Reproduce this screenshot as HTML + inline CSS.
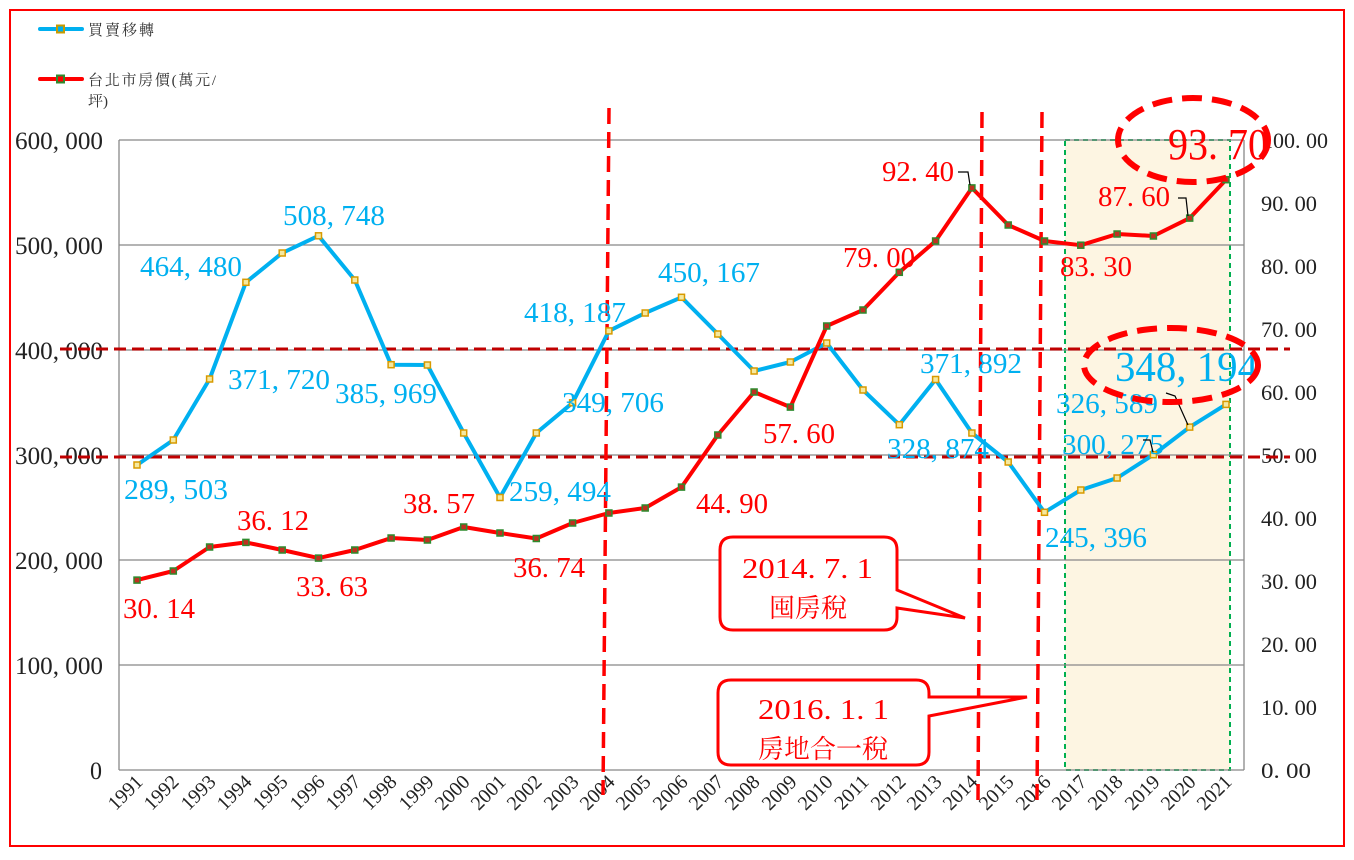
<!DOCTYPE html>
<html><head><meta charset="utf-8"><style>
body{margin:0;background:#fff}
svg text{font-family:"Liberation Serif","Noto Serif CJK TC",serif}
</style></head><body>
<svg width="1354" height="855" xmlns="http://www.w3.org/2000/svg">
<rect x="10" y="10" width="1334" height="836" fill="#fff" stroke="#f00" stroke-width="2"/>
<line x1="40" y1="29" x2="82" y2="29" stroke="#00b0f0" stroke-width="4" stroke-linecap="round"/>
<rect x="57" y="25.5" width="7" height="7" fill="#00b0f0" stroke="#c89b00" stroke-width="2"/>
<text x="88" y="35" font-size="15" fill="#333" textLength="66" lengthAdjust="spacing">買賣移轉</text>
<line x1="40" y1="79" x2="82" y2="79" stroke="#f00" stroke-width="4" stroke-linecap="round"/>
<rect x="57" y="75.5" width="7" height="7" fill="#f00" stroke="#2e8b2e" stroke-width="2"/>
<text x="88" y="85" font-size="15" fill="#333" textLength="128" lengthAdjust="spacing">台北市房價(萬元/</text>
<text x="88" y="106" font-size="15" fill="#333">坪)</text>
<rect x="1065" y="140" width="165" height="630" fill="#fdf5e2" stroke="#00b050" stroke-width="2" stroke-dasharray="5,4"/>
<g stroke="#888" stroke-width="1.3">
<line x1="119" y1="140" x2="1244" y2="140"/><line x1="119" y1="245" x2="1244" y2="245"/><line x1="119" y1="350" x2="1244" y2="350"/><line x1="119" y1="455" x2="1244" y2="455"/><line x1="119" y1="560" x2="1244" y2="560"/><line x1="119" y1="665" x2="1244" y2="665"/><line x1="119" y1="770" x2="1244" y2="770"/>
<line x1="119" y1="140" x2="119" y2="770"/><line x1="1244" y1="140" x2="1244" y2="770"/>
</g>
<g font-size="25" fill="#222">
<text x="15" y="149" textLength="88" lengthAdjust="spacingAndGlyphs">600, 000</text><text x="15" y="254" textLength="88" lengthAdjust="spacingAndGlyphs">500, 000</text><text x="15" y="359" textLength="88" lengthAdjust="spacingAndGlyphs">400, 000</text><text x="15" y="464" textLength="88" lengthAdjust="spacingAndGlyphs">300, 000</text><text x="15" y="569" textLength="88" lengthAdjust="spacingAndGlyphs">200, 000</text><text x="15" y="674" textLength="88" lengthAdjust="spacingAndGlyphs">100, 000</text><text x="90" y="779" textLength="12" lengthAdjust="spacingAndGlyphs">0</text>
</g>
<g font-size="22" fill="#222">
<text x="1262" y="148" textLength="66" lengthAdjust="spacingAndGlyphs">100. 00</text><text x="1261" y="211" textLength="56" lengthAdjust="spacingAndGlyphs">90. 00</text><text x="1261" y="274" textLength="56" lengthAdjust="spacingAndGlyphs">80. 00</text><text x="1261" y="337" textLength="56" lengthAdjust="spacingAndGlyphs">70. 00</text><text x="1261" y="400" textLength="56" lengthAdjust="spacingAndGlyphs">60. 00</text><text x="1261" y="463" textLength="56" lengthAdjust="spacingAndGlyphs">50. 00</text><text x="1261" y="526" textLength="56" lengthAdjust="spacingAndGlyphs">40. 00</text><text x="1261" y="589" textLength="56" lengthAdjust="spacingAndGlyphs">30. 00</text><text x="1261" y="652" textLength="56" lengthAdjust="spacingAndGlyphs">20. 00</text><text x="1261" y="715" textLength="56" lengthAdjust="spacingAndGlyphs">10. 00</text><text x="1261" y="778" textLength="50" lengthAdjust="spacingAndGlyphs">0. 00</text>
</g>
<g font-size="20" fill="#222" text-anchor="end">
<text transform="translate(144,783) rotate(-45)">1991</text><text transform="translate(180,783) rotate(-45)">1992</text><text transform="translate(217,783) rotate(-45)">1993</text><text transform="translate(253,783) rotate(-45)">1994</text><text transform="translate(289,783) rotate(-45)">1995</text><text transform="translate(326,783) rotate(-45)">1996</text><text transform="translate(362,783) rotate(-45)">1997</text><text transform="translate(398,783) rotate(-45)">1998</text><text transform="translate(435,783) rotate(-45)">1999</text><text transform="translate(471,783) rotate(-45)">2000</text><text transform="translate(507,783) rotate(-45)">2001</text><text transform="translate(543,783) rotate(-45)">2002</text><text transform="translate(580,783) rotate(-45)">2003</text><text transform="translate(616,783) rotate(-45)">2004</text><text transform="translate(652,783) rotate(-45)">2005</text><text transform="translate(689,783) rotate(-45)">2006</text><text transform="translate(725,783) rotate(-45)">2007</text><text transform="translate(761,783) rotate(-45)">2008</text><text transform="translate(798,783) rotate(-45)">2009</text><text transform="translate(834,783) rotate(-45)">2010</text><text transform="translate(870,783) rotate(-45)">2011</text><text transform="translate(907,783) rotate(-45)">2012</text><text transform="translate(943,783) rotate(-45)">2013</text><text transform="translate(979,783) rotate(-45)">2014</text><text transform="translate(1015,783) rotate(-45)">2015</text><text transform="translate(1052,783) rotate(-45)">2016</text><text transform="translate(1088,783) rotate(-45)">2017</text><text transform="translate(1124,783) rotate(-45)">2018</text><text transform="translate(1161,783) rotate(-45)">2019</text><text transform="translate(1197,783) rotate(-45)">2020</text><text transform="translate(1233,783) rotate(-45)">2021</text>
</g>
<g stroke="#c00000" stroke-width="3" stroke-dasharray="12,6">
<line x1="60" y1="349" x2="1290" y2="349"/><line x1="60" y1="457" x2="1290" y2="457"/>
</g>
<g stroke="#f00" stroke-width="3.5" stroke-dasharray="16,8">
<line x1="609" y1="108" x2="603" y2="795"/><line x1="982" y1="112" x2="978" y2="800"/><line x1="1042" y1="112" x2="1037" y2="800"/>
</g>
<polyline fill="none" stroke="#00b0f0" stroke-width="4" stroke-linejoin="round" points="137,465 173.3,440 209.6,379 245.9,282.3 282.2,253 318.5,235.8 354.8,280 391.1,364.7 427.4,365 463.7,433 500,497.5 536.3,433 572.6,402.8 608.9,330.9 645.2,313 681.5,297.3 717.8,334 754.1,371 790.4,362 826.7,343 863,390 899.3,424.7 935.6,379.5 971.9,433 1008.2,462 1044.5,512.3 1080.8,490 1117.1,478 1153.4,454.7 1189.7,427.1 1226,404.4"/>
<g fill="#f5e9a0" stroke="#d89a00" stroke-width="1.5">
<rect x="134" y="462" width="6" height="6"/><rect x="170.3" y="437" width="6" height="6"/><rect x="206.6" y="376" width="6" height="6"/><rect x="242.9" y="279.3" width="6" height="6"/><rect x="279.2" y="250" width="6" height="6"/><rect x="315.5" y="232.8" width="6" height="6"/><rect x="351.8" y="277" width="6" height="6"/><rect x="388.1" y="361.7" width="6" height="6"/><rect x="424.4" y="362" width="6" height="6"/><rect x="460.7" y="430" width="6" height="6"/><rect x="497" y="494.5" width="6" height="6"/><rect x="533.3" y="430" width="6" height="6"/><rect x="569.6" y="399.8" width="6" height="6"/><rect x="605.9" y="327.9" width="6" height="6"/><rect x="642.2" y="310" width="6" height="6"/><rect x="678.5" y="294.3" width="6" height="6"/><rect x="714.8" y="331" width="6" height="6"/><rect x="751.1" y="368" width="6" height="6"/><rect x="787.4" y="359" width="6" height="6"/><rect x="823.7" y="340" width="6" height="6"/><rect x="860" y="387" width="6" height="6"/><rect x="896.3" y="421.7" width="6" height="6"/><rect x="932.6" y="376.5" width="6" height="6"/><rect x="968.9" y="430" width="6" height="6"/><rect x="1005.2" y="459" width="6" height="6"/><rect x="1041.5" y="509.3" width="6" height="6"/><rect x="1077.8" y="487" width="6" height="6"/><rect x="1114.1" y="475" width="6" height="6"/><rect x="1150.4" y="451.7" width="6" height="6"/><rect x="1186.7" y="424.1" width="6" height="6"/><rect x="1223" y="401.4" width="6" height="6"/>
</g>
<polyline fill="none" stroke="#f00" stroke-width="4" stroke-linejoin="round" points="137,580.1 173.3,571 209.6,547 245.9,542.4 282.2,550 318.5,558.1 354.8,550 391.1,538 427.4,540 463.7,527 500,533 536.3,538.5 572.6,523 608.9,513 645.2,508 681.5,487.1 717.8,435 754.1,392 790.4,407.1 826.7,326 863,310 899.3,272.3 935.6,241 971.9,187.9 1008.2,225 1044.5,241 1080.8,245.2 1117.1,234 1153.4,236 1189.7,218.1 1226,179.7"/>
<g fill="#c03020" stroke="#2e8b2e" stroke-width="1.5">
<rect x="134" y="577.1" width="6" height="6"/><rect x="170.3" y="568" width="6" height="6"/><rect x="206.6" y="544" width="6" height="6"/><rect x="242.9" y="539.4" width="6" height="6"/><rect x="279.2" y="547" width="6" height="6"/><rect x="315.5" y="555.1" width="6" height="6"/><rect x="351.8" y="547" width="6" height="6"/><rect x="388.1" y="535" width="6" height="6"/><rect x="424.4" y="537" width="6" height="6"/><rect x="460.7" y="524" width="6" height="6"/><rect x="497" y="530" width="6" height="6"/><rect x="533.3" y="535.5" width="6" height="6"/><rect x="569.6" y="520" width="6" height="6"/><rect x="605.9" y="510" width="6" height="6"/><rect x="642.2" y="505" width="6" height="6"/><rect x="678.5" y="484.1" width="6" height="6"/><rect x="714.8" y="432" width="6" height="6"/><rect x="751.1" y="389" width="6" height="6"/><rect x="787.4" y="404.1" width="6" height="6"/><rect x="823.7" y="323" width="6" height="6"/><rect x="860" y="307" width="6" height="6"/><rect x="896.3" y="269.3" width="6" height="6"/><rect x="932.6" y="238" width="6" height="6"/><rect x="968.9" y="184.9" width="6" height="6"/><rect x="1005.2" y="222" width="6" height="6"/><rect x="1041.5" y="238" width="6" height="6"/><rect x="1077.8" y="242.2" width="6" height="6"/><rect x="1114.1" y="231" width="6" height="6"/><rect x="1150.4" y="233" width="6" height="6"/><rect x="1186.7" y="215.1" width="6" height="6"/><rect x="1223" y="176.7" width="6" height="6"/>
</g>
<g font-size="28" fill="#00b0f0">
<text x="124" y="499" textLength="104" lengthAdjust="spacingAndGlyphs">289, 503</text><text x="140" y="276" textLength="102" lengthAdjust="spacingAndGlyphs">464, 480</text><text x="228" y="389" textLength="102" lengthAdjust="spacingAndGlyphs">371, 720</text><text x="283" y="225" textLength="102" lengthAdjust="spacingAndGlyphs">508, 748</text><text x="335" y="403" textLength="102" lengthAdjust="spacingAndGlyphs">385, 969</text><text x="509" y="501" textLength="102" lengthAdjust="spacingAndGlyphs">259, 494</text><text x="562" y="412" textLength="102" lengthAdjust="spacingAndGlyphs">349, 706</text><text x="524" y="322" textLength="102" lengthAdjust="spacingAndGlyphs">418, 187</text><text x="658" y="282" textLength="102" lengthAdjust="spacingAndGlyphs">450, 167</text><text x="887" y="458" textLength="102" lengthAdjust="spacingAndGlyphs">328, 874</text><text x="920" y="373" textLength="102" lengthAdjust="spacingAndGlyphs">371, 892</text><text x="1045" y="547" textLength="102" lengthAdjust="spacingAndGlyphs">245, 396</text><text x="1062" y="454" textLength="102" lengthAdjust="spacingAndGlyphs">300, 275</text><text x="1056" y="413" textLength="102" lengthAdjust="spacingAndGlyphs">326, 589</text>
</g>
<text x="1115" y="381" font-size="42" fill="#00b0f0" textLength="143" lengthAdjust="spacingAndGlyphs">348, 194</text>
<g font-size="28" fill="#f00">
<text x="123" y="618" textLength="72" lengthAdjust="spacingAndGlyphs">30. 14</text><text x="237" y="530" textLength="72" lengthAdjust="spacingAndGlyphs">36. 12</text><text x="296" y="596" textLength="72" lengthAdjust="spacingAndGlyphs">33. 63</text><text x="403" y="513" textLength="72" lengthAdjust="spacingAndGlyphs">38. 57</text><text x="513" y="577" textLength="72" lengthAdjust="spacingAndGlyphs">36. 74</text><text x="696" y="513" textLength="72" lengthAdjust="spacingAndGlyphs">44. 90</text><text x="763" y="443" textLength="72" lengthAdjust="spacingAndGlyphs">57. 60</text><text x="843" y="267" textLength="72" lengthAdjust="spacingAndGlyphs">79. 00</text><text x="882" y="181" textLength="72" lengthAdjust="spacingAndGlyphs">92. 40</text><text x="1060" y="276" textLength="72" lengthAdjust="spacingAndGlyphs">83. 30</text><text x="1098" y="206" textLength="72" lengthAdjust="spacingAndGlyphs">87. 60</text>
</g>
<text x="1168" y="159" font-size="44" fill="#f00" textLength="100" lengthAdjust="spacingAndGlyphs">93. 70</text>
<g stroke="#000" stroke-width="1.2" fill="none">
<polyline points="958,172 968,172 970,185"/><polyline points="1178,198 1186,198 1188,216"/><polyline points="1166,393 1175,396 1188,425"/><polyline points="1143,440 1150,440 1153,452"/>
</g>
<ellipse cx="1193" cy="140" rx="75" ry="42" fill="none" stroke="#f00" stroke-width="6" stroke-dasharray="20,10"/>
<ellipse cx="1171" cy="365" rx="87" ry="37" fill="none" stroke="#f00" stroke-width="6" stroke-dasharray="20,10"/>
<path d="M733,537 H884 Q897,537 897,550 V590 L965,618 L897,608 V617 Q897,630 884,630 H733 Q720,630 720,617 V550 Q720,537 733,537 Z" fill="#fff" stroke="#f00" stroke-width="3"/>
<text x="742" y="578" font-size="28" fill="#f00" textLength="131" lengthAdjust="spacingAndGlyphs">2014. 7. 1</text>
<text x="808" y="617" font-size="26" fill="#f00" text-anchor="middle">囤房稅</text>
<path d="M731,680 H916 Q929,680 929,693 V697 L1027,697 L929,716 V752 Q929,765 916,765 H731 Q718,765 718,752 V693 Q718,680 731,680 Z" fill="#fff" stroke="#f00" stroke-width="3"/>
<text x="758" y="719" font-size="28" fill="#f00" textLength="131" lengthAdjust="spacingAndGlyphs">2016. 1. 1</text>
<text x="823" y="758" font-size="26" fill="#f00" text-anchor="middle">房地合一稅</text>
</svg>
</body></html>
